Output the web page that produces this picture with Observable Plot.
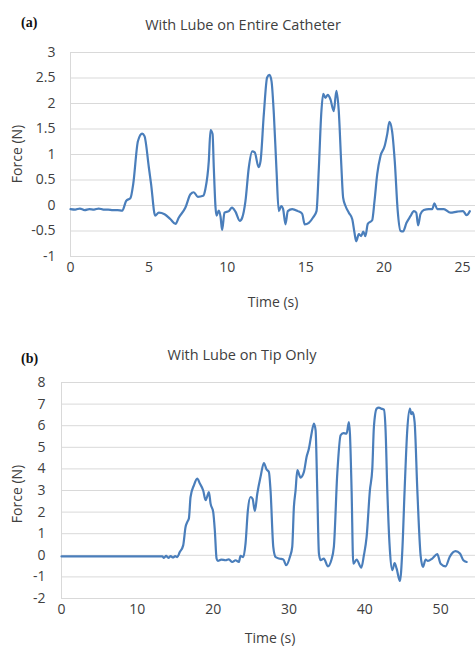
<!DOCTYPE html>
<html>
<head>
<meta charset="utf-8">
<script src="https://cdn.jsdelivr.net/npm/d3@7"></script>
<script src="https://cdn.jsdelivr.net/npm/@observablehq/plot@0.6"></script>
<style>
  html, body { margin: 0; padding: 0; background: #fff; overflow: hidden; }
  #wrap { position: relative; width: 475px; height: 648px; font-family: "Open Sans", sans-serif; color: #404040; }
  .lbl { position: absolute; transform: translate(-50%, -50%); white-space: nowrap; line-height: 1; }
  .panel { position: absolute; left: 21px; transform: translateY(-50%); font-family: "Liberation Serif", "Times New Roman", serif; font-weight: bold; font-size: 14px; color: #111; line-height: 1; }
  .ttl { font-size: 14.5px; }
  .ax { font-size: 14px; }
  .rot { transform: translate(-50%, -50%) rotate(-90deg); }
  .plot { position: absolute; left: 0; }
</style>
</head>
<body>
<div id="wrap"></div>
<script>
// ---- Panel (a): With Lube on Entire Catheter ----
const titleA = "With Lube on Entire Catheter";
const timeA = [0,0.3,0.6,0.9,1.2,1.5,1.8,2.1,2.4,2.7,3.0,3.3,3.55,3.83,4.0,4.3,4.57,4.72,5.0,5.14,5.4,5.63,6.0,6.38,6.7,6.9,7.33,7.65,7.86,8.12,8.46,8.6,8.82,8.93,9.06,9.14,9.25,9.31,9.46,9.57,9.67,9.82,10.1,10.3,10.52,10.8,10.95,11.16,11.37,11.59,11.75,12.0,12.12,12.33,12.54,12.69,12.82,12.97,13.14,13.28,13.44,13.56,13.71,13.86,14.14,14.5,14.77,14.94,15.2,15.48,15.69,15.84,15.99,16.12,16.26,16.41,16.58,16.79,16.96,17.11,17.26,17.39,17.54,17.75,17.97,18.11,18.22,18.39,18.54,18.67,18.81,18.96,19.24,19.39,19.56,19.77,20.04,20.2,20.34,20.51,20.68,20.87,21.05,21.21,21.43,21.68,21.9,22.05,22.17,22.32,22.53,22.85,23.07,23.21,23.39,23.81,24.23,24.66,25.04,25.26,25.47];
const forceA = [-0.07,-0.08,-0.06,-0.09,-0.07,-0.08,-0.06,-0.08,-0.08,-0.09,-0.09,-0.1,0.09,0.15,0.42,1.26,1.41,1.36,0.74,0.42,-0.2,-0.14,-0.17,-0.27,-0.36,-0.24,-0.04,0.22,0.26,0.17,0.19,0.32,0.87,1.48,1.4,0.74,-0.04,-0.2,-0.1,-0.22,-0.48,-0.14,-0.11,-0.04,-0.12,-0.3,-0.24,0.09,0.74,1.06,1.04,0.75,0.87,1.79,2.51,2.56,2.44,1.79,0.68,-0.11,-0.01,-0.07,-0.37,-0.11,-0.07,-0.11,-0.16,-0.37,-0.34,-0.23,-0.11,0.74,1.79,2.19,2.11,2.17,2.08,1.85,2.25,1.85,0.87,0.15,-0.01,-0.14,-0.27,-0.53,-0.7,-0.56,-0.6,-0.51,-0.6,-0.36,-0.29,0.09,0.61,0.97,1.17,1.4,1.64,1.46,0.87,-0.11,-0.5,-0.51,-0.34,-0.21,-0.11,-0.14,-0.39,-0.17,-0.09,-0.07,-0.07,0.04,-0.07,-0.07,-0.14,-0.12,-0.11,-0.19,-0.11];
const xTicksA = [0,5,10,15,20,25];
const yTicksA = [-1,-0.5,0,0.5,1,1.5,2,2.5,3];

// ---- Panel (b): With Lube on Tip Only ----
const titleB = "With Lube on Tip Only";
const timeB = [0,2,4,6,8,10,12,13.3,13.5,13.8,14.1,14.4,14.7,15.0,15.26,15.6,16.05,16.36,16.58,16.8,17.02,17.46,17.9,18.25,18.69,19.0,19.22,19.44,19.66,20.01,20.22,20.45,20.62,21.07,21.64,22.07,22.52,22.96,23.39,23.61,23.97,24.27,24.58,24.93,25.2,25.5,25.82,26.25,26.69,27.05,27.35,27.57,27.93,28.23,28.67,29.25,29.64,30.12,30.43,30.65,30.87,31.1,31.53,31.97,32.32,32.63,32.94,33.29,33.51,33.73,33.95,34.17,34.6,35.13,35.58,35.92,36.37,36.81,37.16,37.6,37.9,38.04,38.26,38.48,38.92,39.54,39.88,40.24,40.67,40.99,41.2,41.56,41.86,42.18,42.52,42.74,42.97,43.31,43.63,43.93,44.2,44.63,44.95,45.25,45.6,45.95,46.13,46.31,46.57,46.93,47.36,47.67,48.02,48.32,48.9,49.56,50.0,50.66,51.19,51.98,52.55,53.0,53.43];
const forceB = [-0.05,-0.05,-0.05,-0.05,-0.05,-0.05,-0.05,-0.05,-0.12,-0.03,-0.12,-0.04,-0.1,-0.04,-0.08,0.15,0.46,1.31,1.54,1.7,2.7,3.24,3.55,3.32,3.0,2.55,2.73,2.93,2.39,2.0,1.16,-0.15,-0.26,-0.2,-0.23,-0.19,-0.31,-0.23,-0.31,-0.03,-0.08,0.54,2.08,2.7,2.62,2.05,2.85,3.63,4.27,3.97,3.86,3.0,0.39,-0.08,-0.15,-0.19,-0.46,-0.08,0.39,2.24,3.0,3.94,3.6,3.86,4.55,4.94,5.56,6.1,5.79,3.0,0.08,-0.23,-0.15,-0.51,-0.23,0.39,3.78,5.56,5.66,5.63,6.17,5.63,3.0,-0.39,-0.2,-0.57,0.0,0.85,3.0,4.01,5.94,6.79,6.84,6.79,6.74,5.79,3.0,0.23,-0.69,-0.36,-0.62,-1.19,0.23,3.0,5.79,6.79,6.53,6.63,6.17,3.0,0.0,-0.54,-0.2,-0.26,-0.15,0.05,-0.39,-0.51,-0.08,0.19,0.08,-0.23,-0.31];
const xTicksB = [0,10,20,30,40,50];
const yTicksB = [-2,-1,0,1,2,3,4,5,6,7,8];

const xLabel = "Time (s)";
const yLabel = "Force (N)";

const lineColor = "#4a7ebb";
const gridColor = "#d9d9d9";

const dataA = timeA.map((t, i) => ({t, f: forceA[i]}));
const dataB = timeB.map((t, i) => ({t, f: forceB[i]}));

const style = {fontFamily: "'Open Sans', sans-serif", fontSize: "14px", color: "#404040", background: "transparent", overflow: "visible"};

function panel(data, xDomain, yDomain, xTicks, yTicks, opts) {
  return Plot.plot({
    width: 475,
    height: opts.height,
    marginTop: opts.marginTop,
    marginBottom: opts.marginBottom,
    marginLeft: opts.marginLeft,
    marginRight: 0,
    x: {domain: xDomain},
    y: {domain: yDomain},
    style,
    marks: [
      Plot.gridY(yTicks, {stroke: gridColor, strokeOpacity: 1, strokeWidth: 1}),
      Plot.ruleX([xDomain[0]], {stroke: gridColor, strokeWidth: 1}),
      Plot.axisY(yTicks, {tickSize: 0, tickPadding: opts.yPad, label: null, tickFormat: d => String(d)}),
      Plot.axisX(xTicks, {tickSize: 0, tickPadding: 6, label: null, tickFormat: d => String(d)}),
      Plot.line(data, {x: "t", y: "f", stroke: lineColor, strokeWidth: 2.2, curve: "monotone-x"})
    ]
  });
}

const wrap = document.getElementById("wrap");

const plotA = panel(dataA, [0, 25.83], [-1, 3], xTicksA, yTicksA,
  {height: 320, marginTop: 52, marginBottom: 64, marginLeft: 70, yPad: 15});
plotA.classList.add("plot");
plotA.style.top = "0px";
wrap.appendChild(plotA);

const plotB = panel(dataB, [0, 54.6], [-2, 8], xTicksB, yTicksB,
  {height: 318, marginTop: 52, marginBottom: 50, marginLeft: 61, yPad: 16});
plotB.classList.add("plot");
plotB.style.top = "330px";
wrap.appendChild(plotB);

function addLabel(text, x, y, cls) {
  const d = document.createElement("div");
  d.className = "lbl " + cls;
  d.style.left = x + "px";
  d.style.top = y + "px";
  d.textContent = text;
  wrap.appendChild(d);
}
function addPanelTag(text, y) {
  const d = document.createElement("div");
  d.className = "panel";
  d.style.top = y + "px";
  d.textContent = text;
  wrap.appendChild(d);
}

addPanelTag("(a)", 23);
addLabel(titleA, 243, 25, "ttl");
addLabel(xLabel, 273, 302, "ax");
addLabel(yLabel, 17, 154, "ax rot");

addPanelTag("(b)", 359);
addLabel(titleB, 242, 355, "ttl");
addLabel(xLabel, 270, 638, "ax");
addLabel(yLabel, 17, 494, "ax rot");
</script>
</body>
</html>
